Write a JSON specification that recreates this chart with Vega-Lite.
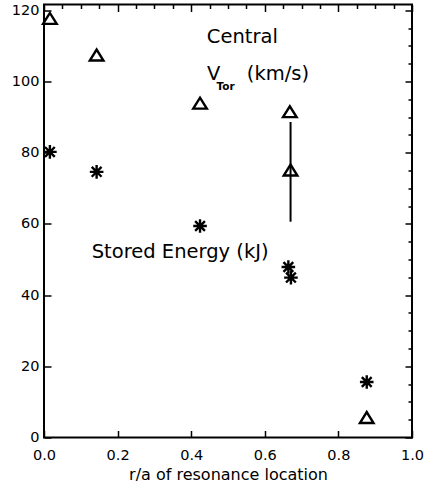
{
  "$schema": "https://vega.github.io/schema/vega-lite/v6.json",
  "width": 368,
  "height": 433,
  "autosize": {"type": "none"},
  "padding": {"left": 44, "top": 4.5, "right": 13, "bottom": 50.5},
  "background": "white",
  "config": {
    "view": {"stroke": "black", "strokeWidth": 2},
    "font": "DejaVu Sans",
    "axis": {
      "domain": false,
      "grid": false,
      "tickColor": "black",
      "tickWidth": 1.5,
      "labelColor": "black",
      "labelFont": "DejaVu Sans",
      "labelFontSize": 14.5,
      "titleFont": "DejaVu Sans",
      "titleFontWeight": "normal",
      "titleColor": "black"
    }
  },
  "datasets": {
    "points": [
      {"x": 0.016, "y": 117.7, "series": "Central V_Tor (km/s)"},
      {"x": 0.143, "y": 107.4, "series": "Central V_Tor (km/s)"},
      {"x": 0.424, "y": 93.9, "series": "Central V_Tor (km/s)"},
      {"x": 0.668, "y": 91.5, "series": "Central V_Tor (km/s)"},
      {"x": 0.670, "y": 75.1, "series": "Central V_Tor (km/s)"},
      {"x": 0.877, "y": 5.6, "series": "Central V_Tor (km/s)"},
      {"x": 0.016, "y": 80.2, "series": "Stored Energy (kJ)"},
      {"x": 0.143, "y": 74.6, "series": "Stored Energy (kJ)"},
      {"x": 0.424, "y": 59.4, "series": "Stored Energy (kJ)"},
      {"x": 0.664, "y": 47.9, "series": "Stored Energy (kJ)"},
      {"x": 0.671, "y": 44.9, "series": "Stored Energy (kJ)"},
      {"x": 0.877, "y": 15.6, "series": "Stored Energy (kJ)"}
    ],
    "errorbars": [
      {"x": 0.670, "lo": 60.6, "hi": 88.6}
    ],
    "labels": [
      {"x": 0.4425, "y": 110.8, "text": "Central"},
      {"x": 0.443, "y": 100.4, "text": "V"},
      {"x": 0.551, "y": 100.4, "text": "(km/s)"},
      {"x": 0.1297, "y": 50.4, "text": "Stored Energy (kJ)"}
    ],
    "sublabels": [
      {"x": 0.469, "y": 97.6, "text": "Tor"}
    ]
  },
  "layer": [
    {
      "layer": [
        {
          "data": {"name": "points"},
          "mark": {"type": "point", "filled": false, "stroke": "black", "strokeWidth": 2.4, "size": 185, "opacity": 1},
          "encoding": {
            "x": {
              "field": "x", "type": "quantitative",
              "scale": {"domain": [0, 1], "nice": false, "zero": false},
              "axis": {
                "orient": "bottom",
                "values": [0, 0.05, 0.1, 0.15, 0.2, 0.25, 0.3, 0.35, 0.4, 0.45, 0.5, 0.55, 0.6, 0.65, 0.7, 0.75, 0.8, 0.85, 0.9, 0.95, 1],
                "labelExpr": "round(datum.value*100) % 20 === 0 ? format(datum.value, '.1f') : ''",
                "tickSize": {"condition": {"test": "round(datum.value*100) % 20 === 0", "value": -7}, "value": -4},
                "labelPadding": 18,
                "labelFlush": false,
                "labelOverlap": false,
                "title": "r/a of resonance location",
                "titleFontSize": 16,
                "titlePadding": 4
              }
            },
            "y": {
              "field": "y", "type": "quantitative",
              "scale": {"domain": [0, 121.6], "nice": false, "zero": false},
              "axis": {
                "orient": "left",
                "values": [0, 5, 10, 15, 20, 25, 30, 35, 40, 45, 50, 55, 60, 65, 70, 75, 80, 85, 90, 95, 100, 105, 110, 115, 120],
                "labelExpr": "datum.value % 20 === 0 ? datum.label : ''",
                "tickSize": {"condition": {"test": "datum.value % 20 === 0", "value": -7}, "value": -4},
                "labelPadding": 12,
                "labelFlush": false,
                "labelOverlap": false,
                "title": null
              }
            },
            "shape": {
              "field": "series", "type": "nominal",
              "scale": {
                "domain": ["Central V_Tor (km/s)", "Stored Energy (kJ)"],
                "range": ["M-1,0.8L1,0.8L0,-0.8Z", "M-1,0L1,0M0,-1L0,1M-0.72,-0.72L0.72,0.72M-0.72,0.72L0.72,-0.72"]
              },
              "legend": null
            }
          }
        },
        {
          "data": {"name": "errorbars"},
          "mark": {"type": "rule", "color": "black", "strokeWidth": 2},
          "encoding": {
            "x": {"field": "x", "type": "quantitative"},
            "y": {"field": "lo", "type": "quantitative"},
            "y2": {"field": "hi"}
          }
        },
        {
          "data": {"name": "sublabels"},
          "mark": {"type": "text", "align": "left", "baseline": "alphabetic", "fontSize": 10.5, "fontWeight": "bold", "font": "DejaVu Sans", "color": "black"},
          "encoding": {
            "x": {"field": "x", "type": "quantitative"},
            "y": {"field": "y", "type": "quantitative"},
            "text": {"field": "text"}
          }
        }
      ]
    },
    {
      "data": {"name": "labels"},
      "mark": {"type": "text", "align": "left", "baseline": "alphabetic", "fontSize": 19.5, "font": "DejaVu Sans", "color": "black"},
      "encoding": {
        "x": {
          "field": "x", "type": "quantitative",
          "scale": {"domain": [0, 1], "nice": false, "zero": false},
          "axis": {
            "orient": "top",
            "values": [0, 0.05, 0.1, 0.15, 0.2, 0.25, 0.3, 0.35, 0.4, 0.45, 0.5, 0.55, 0.6, 0.65, 0.7, 0.75, 0.8, 0.85, 0.9, 0.95, 1],
            "labels": false,
            "tickSize": {"condition": {"test": "round(datum.value*100) % 20 === 0", "value": -7}, "value": -4},
            "title": null
          }
        },
        "y": {
          "field": "y", "type": "quantitative",
          "scale": {"domain": [0, 121.6], "nice": false, "zero": false},
          "axis": {
            "orient": "right",
            "values": [0, 5, 10, 15, 20, 25, 30, 35, 40, 45, 50, 55, 60, 65, 70, 75, 80, 85, 90, 95, 100, 105, 110, 115, 120],
            "labels": false,
            "tickSize": {"condition": {"test": "datum.value % 20 === 0", "value": -7}, "value": -4},
            "title": null
          }
        },
        "text": {"field": "text"}
      }
    }
  ],
  "resolve": {"axis": {"x": "independent", "y": "independent"}}
}
